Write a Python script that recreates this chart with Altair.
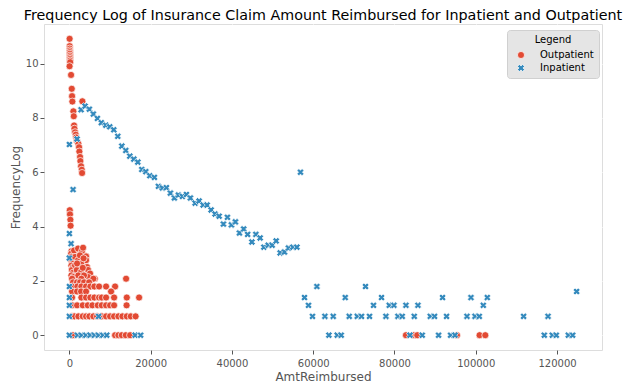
import altair as alt
import pandas as pd

# ---------------- data ----------------
out_x = [
    # high column
    60, 80, 90, 100, 110, 130, 150, 160, 170, 180, 200, 50, 419, 590, 665, 739, 985, 1083,
    1157, 1250, 1403, 1576, 1700, 1822, 2216, 2388, 2462, 2634, 2708, 2881, 3053, 3127, 3200,
    # middle column
    100, 150, 250, 300,
    # low column near zero
    500, 450, 600, 420, 700, 500, 800, 600, 900, 500,
    # blob
    1155, 2142, 3127, 4112, 1403, 2142, 4112, 1403, 2881, 4358, 1822, 2881, 4604, 5096, 2881,
    4604, 6250, 1000, 3373, 2600, 3500, 1900, 3300, 2200, 3600, 1500, 2634, 3619, 4850,
    # log 8
    665, 2954, 5909, 13960,
    # log 7
    911, 1896, 2634, 3619, 4850,
    # log 6
    665, 1970, 2954, 4112, 5170, 6155, 7312, 9036, 11251,
    # log 5
    665, 1896, 2881, 4112, 10267,
    # log 4
    665, 2954, 4112, 5170, 6155, 7312, 7977, 9036, 11005, 14132, 17160,
    # log 3
    665, 1896, 3299, 4530, 5663, 6992, 7977, 9036, 10020, 11005, 14083,
    # log 2
    665, 1231, 2216, 3299, 4112, 4924, 5909, 6820, 7977, 9036, 10020, 11005, 12064, 13049,
    14132, 15116, 16299,
    # log 1
    837, 11251, 12064, 12901, 13886, 14944, 82822, 84792, 85604, 95378, 100942, 102345,
]
out_y = [
    10.91, 10.64, 10.55, 10.48, 10.42, 10.36, 10.29, 10.23, 10.17, 10.11, 10.05, 9.90, 9.58, 9.07,
    8.80, 8.60, 8.24, 8.06, 7.72, 7.60, 7.47, 7.38, 7.28, 7.17, 7.05, 6.92, 6.76, 6.56, 6.41, 6.22,
    6.09, 5.97, 8.61,
    4.60, 4.45, 4.25, 4.03,
    3.09, 3.00, 2.89, 2.77, 2.64, 2.56, 2.48, 2.40, 2.30, 2.20,
    3.12, 3.19, 3.10, 2.90, 2.88, 2.76, 2.76, 2.57, 2.64, 2.51, 2.40, 2.33, 2.40, 2.27, 2.08,
    2.14, 2.08, 2.14, 3.22, 2.94, 2.83, 2.64, 2.48, 2.20, 2.20, 1.95, 1.95, 1.95, 1.95,
    2.079, 2.079, 2.079, 2.079,
    1.946, 1.946, 1.946, 1.946, 1.946,
    1.792, 1.792, 1.792, 1.792, 1.792, 1.792, 1.792, 1.792, 1.792,
    1.609, 1.609, 1.609, 1.609, 1.609,
    1.386, 1.386, 1.386, 1.386, 1.386, 1.386, 1.386, 1.386, 1.386, 1.386, 1.386,
    1.099, 1.099, 1.099, 1.099, 1.099, 1.099, 1.099, 1.099, 1.099, 1.099, 1.099,
    0.693, 0.693, 0.693, 0.693, 0.693, 0.693, 0.693, 0.693, 0.693, 0.693, 0.693, 0.693, 0.693,
    0.693, 0.693, 0.693, 0.693,
    0, 0, 0, 0, 0, 0, 0, 0, 0, 0, 0, 0,
]

in_x = [
    # decay curve
    2881, 3865, 4924, 5909, 6894, 7878, 8962, 9946, 10931, 11916, 12901, 13886, 14870, 15855,
    16840, 17825, 18810, 19794, 20927, 21912, 22897, 23881, 24866, 25851, 26836, 27821, 28805,
    29790, 30947, 31932, 32917, 33902, 34887, 35871, 36856, 37915, 38900, 39884, 40869, 41854,
    42888, 43873, 44907, 45892, 46950, 47861, 48920, 49905, 50889, 51874, 52933, 53918, 55001,
    55986, 56872,
    # near zero
    0, 1896, 911, 0, 418, 0, 0, 0, 0, 0, 0, 7200,
    # zero row near origin
    1970, 2954, 4038, 5096, 6155, 7140, 8223, 9208, 16175, 17530,
    # sparse, log 6
    60910, 72874,
    # sparse, log 4
    57857, 67877, 76814, 91832, 98824, 102837,
    # sparse, log 3
    58842, 74845, 78710, 79867, 82822, 85776, 101853,
    # sparse, log 2
    59827, 62880, 64923, 68863, 70832, 71891, 73860, 77898, 80852, 81911, 84865, 88804, 89863,
    92817, 97840, 99810, 100869, 111775, 117783,
    # sparse, log 1
    63864, 65908, 66893, 83806, 86835, 90848, 93802, 94886, 116872, 118841, 119826, 122780,
    123839,
    # sparse, log 5
    124824,
]
in_y = [
    8.30, 8.43, 8.32, 8.14, 7.98, 7.82, 7.73, 7.67, 7.56, 7.32, 6.96, 6.80, 6.59, 6.48, 6.37,
    6.10, 6.02, 5.87, 5.81, 5.48, 5.42, 5.43, 5.23, 5.05, 5.16, 5.11, 5.18, 5.05, 4.86, 4.94,
    4.79, 4.79, 4.61, 4.46, 4.38, 4.09, 4.34, 4.06, 4.17, 3.76, 3.91, 3.71, 3.43, 3.71, 3.58,
    3.24, 3.31, 3.31, 3.47, 3.03, 3.06, 3.21, 3.24, 3.24, 6.00,
    7.02, 7.22, 5.36, 3.74, 3.37, 2.84, 1.792, 1.386, 1.099, 0.693, 0, 0.693,
    0, 0, 0, 0, 0, 0, 0, 0, 0, 0,
    1.792, 1.792,
    1.386, 1.386, 1.386, 1.386, 1.386, 1.386,
    1.099, 1.099, 1.099, 1.099, 1.099, 1.099, 1.099,
    0.693, 0.693, 0.693, 0.693, 0.693, 0.693, 0.693, 0.693, 0.693, 0.693, 0.693, 0.693, 0.693,
    0.693, 0.693, 0.693, 0.693, 0.693, 0.693,
    0, 0, 0, 0, 0, 0, 0, 0, 0, 0, 0, 0, 0,
    1.609,
]

categories = ["Outpatient", "Inpatient"]
colors = ["#E24A33", "#348ABD"]
x_ticks = [0, 20000, 40000, 60000, 80000, 100000, 120000]
y_ticks = [0, 2, 4, 6, 8, 10]

df = pd.concat([
    pd.DataFrame({"AmtReimbursed": out_x, "FrequencyLog": out_y, "Legend": categories[0]}),
    pd.DataFrame({"AmtReimbursed": in_x, "FrequencyLog": in_y, "Legend": categories[1]}),
], ignore_index=True)

FONT = "DejaVu Sans"
X_SHAPE = ("M0,-0.55L0.45,-1L1,-0.45L0.55,0L1,0.45L0.45,1L0,0.55L-0.45,1L-1,0.45"
           "L-0.55,0L-1,-0.45L-0.45,-1Z")

axis_common = dict(
    grid=True, gridColor="white", gridWidth=1, domain=False,
    tickColor="#555555", tickSize=4, labelColor="#555555", labelFontSize=10, labelFont=FONT,
    titleColor="#555555", titleFontSize=12, titleFont=FONT, titleFontWeight="normal",
)

legend = alt.Legend(
    title="Legend", orient="none", legendX=463, legendY=6,
    fillColor="#E5E5E5", strokeColor="#D0D0D0", cornerRadius=3, padding=5,
    titleAnchor="middle", titleFontSize=10, titleFontWeight="normal", titleColor="black",
    titleFont=FONT, titlePadding=5,
    labelFont=FONT, labelFontSize=10, labelColor="black",
    symbolSize=50, symbolOffset=4, labelOffset=14, rowPadding=3,
    symbolStrokeColor="white", symbolStrokeWidth=0.7,
)

chart = alt.Chart(df).mark_point(
    filled=True, size=50, stroke="white", strokeWidth=0.7, opacity=1
).encode(
    x=alt.X("AmtReimbursed:Q",
            scale=alt.Scale(domain=[-6241, 131065], nice=False, zero=False),
            axis=alt.Axis(values=x_ticks, format="d", labelPadding=4, titlePadding=3,
                          **axis_common)),
    y=alt.Y("FrequencyLog:Q",
            scale=alt.Scale(domain=[-0.545, 11.455], nice=False, zero=False),
            axis=alt.Axis(values=y_ticks, format="d", labelPadding=2, titlePadding=3,
                          **axis_common)),
    color=alt.Color("Legend:N", scale=alt.Scale(domain=categories, range=colors), legend=legend),
    shape=alt.Shape("Legend:N", scale=alt.Scale(domain=categories, range=["circle", X_SHAPE]),
                    legend=legend),
).properties(
    width=558, height=326,
    title=alt.TitleParams(
        "Frequency Log of Insurance Claim Amount Reimbursed for Inpatient and Outpatient",
        font=FONT, fontSize=14.3, fontWeight="normal", color="black",
        anchor="middle", offset=1,
    ),
    autosize=alt.AutoSizeParams(type="none"),
    padding={"left": 36, "top": 16, "right": 21, "bottom": 39},
).configure_view(
    fill="#E5E5E5", strokeWidth=0
).configure(background="white")

chart.save("out.html", embed_options={"renderer": "svg", "actions": False})
